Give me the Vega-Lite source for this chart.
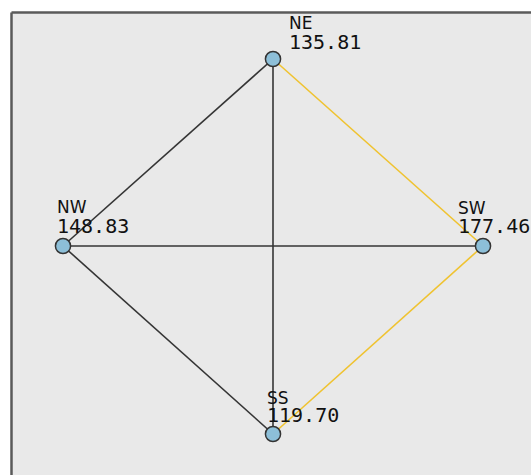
{
  "$schema": "https://vega.github.io/schema/vega-lite/v6.json",
  "autosize": {"type": "none"},
  "padding": {"left": 11, "top": 12, "right": 0, "bottom": 0},
  "width": 520,
  "height": 463,
  "background": "#ffffff",
  "config": {
    "view": {"fill": "#e9e9e9", "stroke": null},
    "axis": {"domainColor": "#5a5a5a", "domainWidth": 2.5, "ticks": false, "labels": false, "grid": false, "title": null}
  },
  "datasets": {
    "nodes": [
      {"name": "NE", "value": "135.81", "x": 262, "y": 47, "lx": 278, "ny": 17, "vy": 37},
      {"name": "NW", "value": "148.83", "x": 52, "y": 234, "lx": 46, "ny": 201, "vy": 221},
      {"name": "SW", "value": "177.46", "x": 472, "y": 234, "lx": 447, "ny": 202, "vy": 221},
      {"name": "SS", "value": "119.70", "x": 262, "y": 422, "lx": 256, "ny": 392, "vy": 410}
    ],
    "edges": [
      {"source": "NE", "target": "NW", "kind": "normal"},
      {"source": "NE", "target": "SS", "kind": "normal"},
      {"source": "NW", "target": "SW", "kind": "normal"},
      {"source": "NW", "target": "SS", "kind": "normal"},
      {"source": "NE", "target": "SW", "kind": "highlight"},
      {"source": "SW", "target": "SS", "kind": "highlight"}
    ]
  },
  "layer": [
    {
      "data": {"name": "edges"},
      "transform": [
        {"lookup": "source", "from": {"data": {"name": "nodes"}, "key": "name", "fields": ["x", "y"]}, "as": ["sx", "sy"]},
        {"lookup": "target", "from": {"data": {"name": "nodes"}, "key": "name", "fields": ["x", "y"]}, "as": ["tx", "ty"]}
      ],
      "mark": {"type": "rule", "strokeWidth": 1.6},
      "encoding": {
        "x": {"field": "sx", "type": "quantitative", "scale": {"domain": [0, 520], "nice": false, "zero": false}, "axis": {"orient": "top"}},
        "y": {"field": "sy", "type": "quantitative", "scale": {"domain": [0, 463], "nice": false, "zero": false, "reverse": true}, "axis": {"orient": "left"}},
        "x2": {"field": "tx"},
        "y2": {"field": "ty"},
        "color": {"field": "kind", "type": "nominal", "scale": {"domain": ["normal", "highlight"], "range": ["#353535", "#f0c330"]}, "legend": null}
      }
    },
    {
      "data": {"name": "nodes"},
      "mark": {"type": "point", "filled": true, "fill": "#8dbfd8", "stroke": "#333333", "strokeWidth": 1.5, "size": 230, "opacity": 1},
      "encoding": {
        "x": {"field": "x", "type": "quantitative"},
        "y": {"field": "y", "type": "quantitative"}
      }
    },
    {
      "data": {"name": "nodes"},
      "mark": {"type": "text", "align": "left", "baseline": "alphabetic", "font": "DejaVu Sans", "fontSize": 17, "color": "#111111"},
      "encoding": {
        "x": {"field": "lx", "type": "quantitative"},
        "y": {"field": "ny", "type": "quantitative"},
        "text": {"field": "name"}
      }
    },
    {
      "data": {"name": "nodes"},
      "mark": {"type": "text", "align": "left", "baseline": "alphabetic", "font": "DejaVu Sans Mono", "fontSize": 20, "color": "#111111"},
      "encoding": {
        "x": {"field": "lx", "type": "quantitative"},
        "y": {"field": "vy", "type": "quantitative"},
        "text": {"field": "value"}
      }
    }
  ]
}
